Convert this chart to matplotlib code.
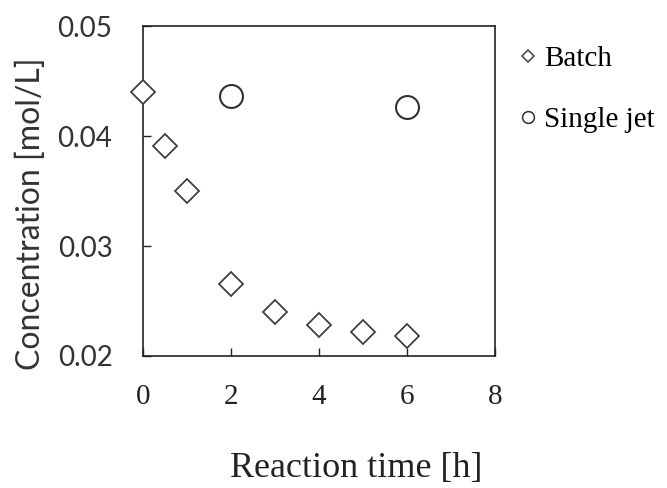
import matplotlib
matplotlib.use("Agg")
import matplotlib.pyplot as plt

# data
batch_t = [0, 0.5, 1, 2, 3, 4, 5, 6]
batch_c = [0.0440, 0.0391, 0.0350, 0.0265, 0.0240, 0.0228, 0.0222, 0.0218]
jet_t = [2, 6]
jet_c = [0.0436, 0.0426]

serif = "Liberation Serif"
sans = "Lato"

fig = plt.figure(figsize=(6.67, 4.88), dpi=100)
ax = fig.add_axes([0.2144, 0.2705, 0.5278, 0.6762])

ax.plot(batch_t, batch_c, linestyle="none", marker="D", ms=12.5, mfc="white",
        mec="#404040", mew=1.3, clip_on=False, zorder=3)
ax.plot(jet_t, jet_c, linestyle="none", marker="o", ms=16.5, mfc="white",
        mec="#303030", mew=1.5, clip_on=False, zorder=3)

ax.set_xlim(0, 8)
ax.set_ylim(0.02, 0.05)
ax.set_xticks(range(0, 9, 2))
ax.set_yticks([0.02, 0.03, 0.04, 0.05])
ax.set_yticklabels(["0.02", "0.03", "0.04", "0.05"])
ax.tick_params(direction="in", length=6, width=1, colors="#222222")
ax.tick_params(axis="x", pad=20, labelsize=21)
ax.tick_params(axis="y", pad=22, labelsize=20)
for lab in ax.get_xticklabels():
    lab.set_fontfamily(serif)
for lab in ax.get_yticklabels():
    lab.set_fontfamily(sans)
    lab.set_color("#333333")
for sp in ax.spines.values():
    sp.set_linewidth(1.2)
    sp.set_color("#222222")

ax.set_xlabel("Reaction time [h]", fontfamily=serif, fontsize=26,
              color="#222222")
ax.xaxis.set_label_coords(0.605, -0.29)
ax.set_ylabel("Concentration [mol/L]", fontfamily=sans, fontsize=23,
              color="#333333")
ax.yaxis.set_label_coords(-0.275, 0.43)

# legend handles
h1, = ax.plot([], [], linestyle="none", marker="D", ms=6.5, mfc="white",
              mec="#404040", mew=1.1)
h2, = ax.plot([], [], linestyle="none", marker="o", ms=8.5, mfc="white",
              mec="#303030", mew=1.1)
ax.legend([h1, h2], ["Batch", "Single jet"], loc="upper left",
          bbox_to_anchor=(0.995, 1.02), frameon=False, handlelength=0.6,
          handletextpad=0.25, labelspacing=1.2,
          prop={"family": serif, "size": 21})

fig.savefig("out.png", dpi=100)
